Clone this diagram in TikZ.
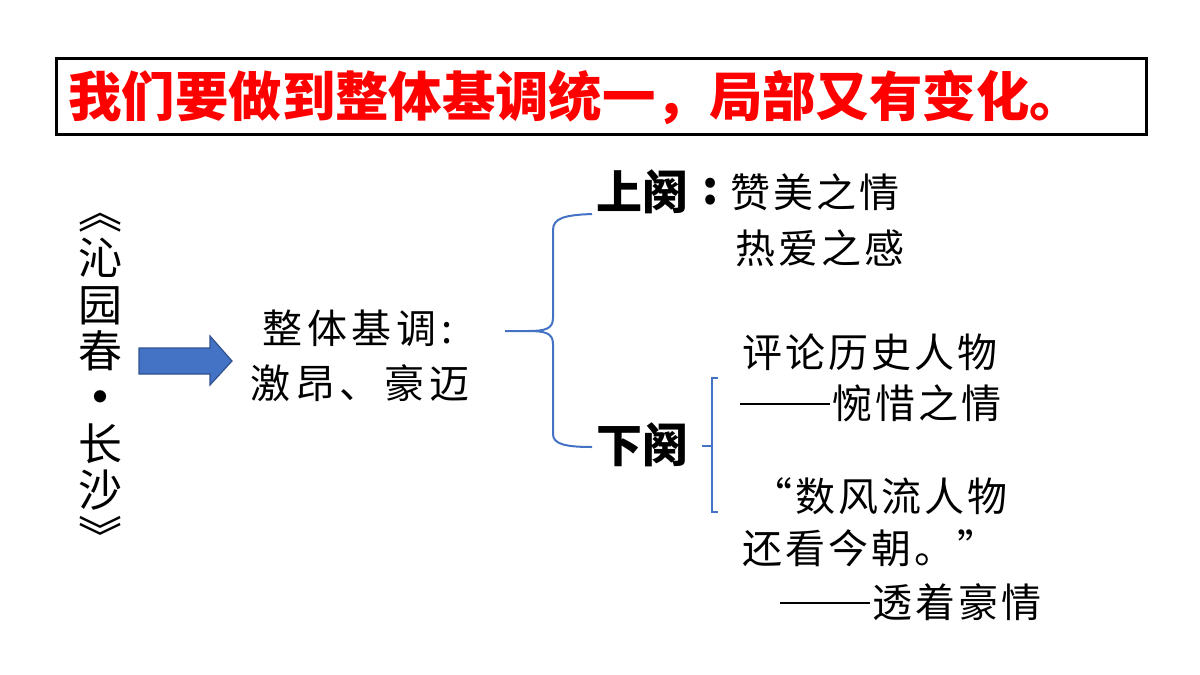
\documentclass[tikz,border=0pt]{standalone}
\usepackage{fontspec}
\setmainfont{Noto Sans CJK SC}
\newfontfamily\cjk{Noto Sans CJK SC}
\newfontfamily\cjkls[LetterSpace=7.5]{Noto Sans CJK SC}
\newfontfamily\cjkwide[LetterSpace=12]{Noto Sans CJK SC}
\usetikzlibrary{calc}
\definecolor{bl}{HTML}{4472C4}
\definecolor{bld}{HTML}{2F528F}
\newcommand{\longdash}{\rule[0.33em]{45pt}{1.1pt}\hspace{1pt}}
\tikzset{
  txt/.style={anchor=west, inner sep=0, font=\fontsize{20}{26}\selectfont\cjkls},
  wtxt/.style={anchor=west, inner sep=0, font=\fontsize{20}{26}\selectfont\cjkwide},
  head/.style={anchor=west, inner sep=0, font=\fontsize{23}{28}\selectfont\cjk\bfseries},
  bline/.style={draw=bl, line width=1pt},
}
\begin{document}
\begin{tikzpicture}[x=0.5pt,y=-0.5pt]
\useasboundingbox (0,0) rectangle (1200,675);
% title
\node[draw, line width=1.5pt, minimum width=545pt, minimum height=38pt, anchor=north west, inner sep=0] (titlebox) at (55,57) {};
\node[anchor=west, inner sep=0, text=red, font=\fontsize{26.7}{30}\selectfont\cjk\bfseries] (title) at (68,97) {我们要做到整体基调统一，局部又有变化。};
% vertical title
\node[inner sep=0, align=center, font=\fontsize{22}{23.2}\selectfont\cjk] (poem) at (100,383) {︽\\沁\\园\\春\\{\bfseries •}\\长\\沙\\︾};
% block arrow
\draw[fill=bl, draw=bld, line width=0.6pt] (139,348) -- (210,348) -- (210,336) -- (232,361) -- (210,385) -- (210,374) -- (139,374) -- cycle;
% whole tone
\node[wtxt] (whole) at (262,328) {整体基调:};
\node[wtxt] (whole2) at (250,383) {激昂、豪迈};
% sections
\node[head] (up) at (596,192) {上阕};
\node[head] (colon) at (702,192) {:};
\node[txt] (up1) at (730,192) {赞美之情};
\node[txt] (up2) at (735,248) {热爱之感};
\node[head] (down) at (596,445) {下阕};
\node[txt] (d1) at (742,352) {评论历史人物};
\node[txt] (d2) at (740,403) {\longdash 惋惜之情};
\node[txt] (d3) at (752,496) {“数风流人物};
\node[txt] (d4) at (742,548) {还看今朝。”};
\node[txt] (d5) at (780,602) {\longdash 透着豪情};
% brace
\coordinate (bs) at (505,331);
\coordinate (bm) at (528,331);
\coordinate (ue) at ($(up.west)+(-4,22)$);
\coordinate (de) at ($(down.west)+(-4,2)$);
\draw[bline] (bs) -- (bm) .. controls (545,331) and (553,329) .. (553,318) -- (553,230) .. controls (553,218) and (565,215) .. (ue);
\draw[bline] (bm) .. controls (545,331) and (553,333) .. (553,344) -- (553,434) .. controls (553,444) and (565,447) .. (de);
% small bracket
\coordinate (sb) at ($(down.east)+(13,1)$);
\draw[bline, line width=0.7pt] (sb) -- (712,446);
\draw[bline, line width=0.7pt] (718,378) -- (712,378) -- (712,512) -- (718,512);
\end{tikzpicture}
\end{document}
